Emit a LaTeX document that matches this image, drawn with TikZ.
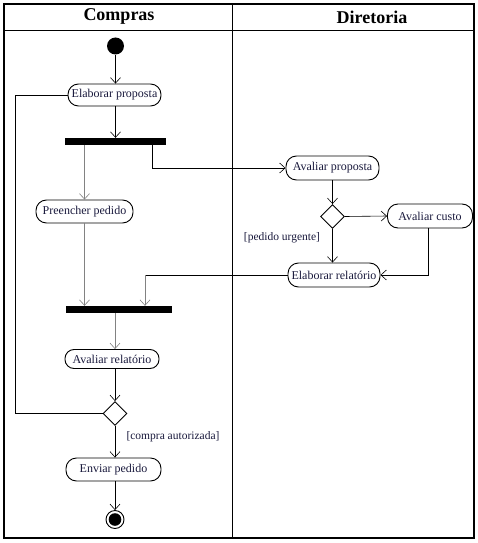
\documentclass[tikz,border=0pt]{standalone}
\usepackage{fontspec}
\setmainfont{Liberation Serif}
\usetikzlibrary{arrows.meta,shapes.geometric}
\definecolor{txt}{RGB}{25,25,60}
\definecolor{lgray}{RGB}{130,130,130}
\begin{document}
\begin{tikzpicture}[x=1pt,y=-1pt,
  act/.style={draw, rounded corners=10.5pt, line width=0.9pt, minimum height=22pt, inner sep=0pt, font=\fontsize{12}{14}\selectfont, text=txt},
  bar/.style={fill=black, inner sep=0pt, minimum height=7pt},
  dec/.style={draw, diamond, line width=0.9pt, minimum width=24pt, minimum height=24pt, inner sep=0pt, fill=white},
  arr/.style={-{Straight Barb[length=5.5pt,width=10pt]}, line width=0.6pt},
  lbl/.style={font=\fontsize{11.5}{13}\selectfont, text=txt},
  hdr/.style={font=\fontsize{18}{21}\selectfont\bfseries}]
\useasboundingbox (0,0) rectangle (478,543);
% frame
\draw[line width=1.6pt] (4,4) rectangle (474,538);
\draw[line width=0.9pt] (4,30) -- (474,30);
\draw[line width=0.9pt] (232,4) -- (232,538);
\node[hdr] (h1) at (119,16) {Compras};
\node[hdr] (h2) at (372,17) {Diretoria};
% nodes
\node[circle, fill=black, minimum size=17pt, inner sep=0pt] (start) at (115.5,46) {};
\node[act, minimum width=93pt] (ep) at (114.5,95) {Elaborar proposta};
\node[bar, minimum width=101pt] (bar1) at (115.5,141.5) {};
\node[act, minimum width=97pt, minimum height=23pt] (pp) at (84.5,211.5) {Preencher pedido};
\node[act, minimum width=93pt, minimum height=24pt] (ap) at (332.5,168) {Avaliar proposta};
\node[dec] (d1) at (332.5,216.5) {};
\node[act, minimum width=85pt, minimum height=24pt] (ac) at (430,216) {Avaliar custo};
\node[act, minimum width=92pt, minimum height=24pt] (er) at (334,275) {Elaborar relatório};
\node[bar, minimum width=106pt] (bar2) at (119,309.5) {};
\node[act, minimum width=94pt, minimum height=19pt, rounded corners=9pt] (ar) at (112,359) {Avaliar relatório};
\node[dec] (d2) at (115,413.5) {};
\node[act, minimum width=95pt, minimum height=23pt] (env) at (113.5,469.5) {Enviar pedido};
\node[circle, draw, line width=0.9pt, minimum size=18pt, inner sep=0pt,
  path picture={\fill (path picture bounding box.center) circle (6.3pt);}] (end) at (115,519.5) {};
\node[lbl] (l1) at (282,238) {[pedido urgente]};
\node[lbl] (l2) at (173,436.5) {[compra autorizada]};
% helper coordinates
\coordinate (f1) at (152,145);
\coordinate (loopx) at (15,0);
\coordinate (j2c) at (145,275);
% connectors
\draw[arr] (start) -- (start |- ep.north);
\draw[arr] (start |- ep.south) -- (start |- bar1.north);
\draw[line width=0.9pt] (d2.west) -- (d2.west -| loopx) |- (ep.west);
\draw[arr, lgray] (pp.north |- bar1.south) -- (pp.north);
\draw[arr] (f1) |- (ap.west);
\draw[arr] (ap.south) -- (d1.north);
\draw[arr] (d1.east) -- (ac.west);
\draw[arr] (d1.south) -- (d1.south |- er.north);
\draw[arr] (ac.south -| 428,0) |- (er.east);
\draw[line width=0.6pt] (er.west) -- (j2c);
\draw[arr, lgray] (j2c) -- (j2c |- bar2.north);
\draw[arr, lgray] (pp.south) -- (pp.south |- bar2.north);
\draw[arr, lgray] (d2 |- bar2.south) -- (d2 |- ar.north);
\draw[arr] (d2 |- ar.south) -- (d2.north);
\draw[arr] (d2.south) -- (d2 |- env.north);
\draw[arr] (d2 |- env.south) -- (end.north);
\end{tikzpicture}
\end{document}
